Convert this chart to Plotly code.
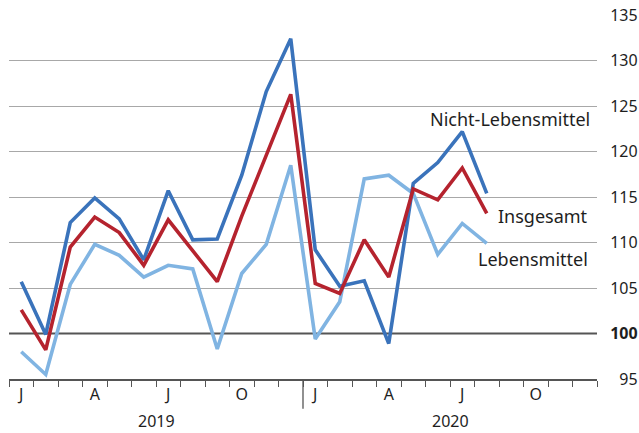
import plotly.graph_objects as go

# months Jan 2019 .. Aug 2020 as index 0..19
month_idx = list(range(20))

nicht_lebensmittel = [105.7, 99.9, 112.2, 114.9, 112.6, 108.1, 115.7, 110.3, 110.4, 117.4,
                      126.6, 132.4, 109.2, 105.2, 105.8, 98.9, 116.5, 118.8, 122.2, 115.4]
insgesamt = [102.6, 98.2, 109.5, 112.8, 111.1, 107.5, 112.5, 109.1, 105.7, 112.9,
             119.6, 126.3, 105.5, 104.4, 110.3, 106.2, 115.9, 114.7, 118.2, 113.2]
lebensmittel = [98.0, 95.5, 105.4, 109.8, 108.6, 106.2, 107.5, 107.1, 98.3, 106.6,
                109.8, 118.5, 99.4, 103.5, 117.0, 117.4, 115.4, 108.7, 112.1, 109.9]

tick_pos = [0, 3, 6, 9, 12, 15, 18, 21]
tick_text = ["J", "A", "J", "O", "J", "A", "J", "O"]
years = ["2019", "2020"]
y_ticks = [95, 100, 105, 110, 115, 120, 125, 130, 135]
y_text = ["\u200795", "<b>100</b>", "105", "110", "115", "120", "125", "130", "135"]
BASE = 100
X_RANGE = [-0.5, 23.5]

FONT = "Noto Sans"
TXT = "#1e1e1e"

fig = go.Figure()
# base line at 100, drawn as first trace so the series lie on top of it
fig.add_trace(go.Scatter(x=X_RANGE, y=[BASE, BASE], mode="lines", hoverinfo="skip",
                         line=dict(color="#555555", width=2)))

series = [
    ("Lebensmittel", lebensmittel, "#80b4e2"),
    ("Nicht-Lebensmittel", nicht_lebensmittel, "#3a73bb"),
    ("Insgesamt", insgesamt, "#b5232e"),
]
for name, vals, col in series:
    fig.add_trace(go.Scatter(x=month_idx, y=vals, mode="lines", name=name,
                             line=dict(color=col, width=3.6)))

# year separator
fig.add_shape(type="line", xref="x", x0=11.5, x1=11.5, yref="paper", y0=0, y1=-0.082,
              line=dict(color="#555555", width=1.3))

labels = [
    ("Nicht-Lebensmittel", 16.6, 123.6),
    ("Insgesamt", 19.38, 112.9),
    ("Lebensmittel", 18.55, 108.2),
]
for text, x, y in labels:
    fig.add_annotation(x=x, y=y, text=text, showarrow=False, xanchor="left",
                       yanchor="middle", font=dict(family=FONT, size=18, color=TXT))

for i, yr in enumerate(years):
    fig.add_annotation(x=5.5 + 12 * i, y=-0.08, xref="x", yref="paper", text=yr,
                       showarrow=False, yanchor="top",
                       font=dict(family=FONT, size=16, color=TXT))

fig.update_layout(
    width=639, height=433,
    margin=dict(l=9, r=42, t=15, b=54),
    paper_bgcolor="white", plot_bgcolor="white",
    showlegend=False,
    font=dict(family=FONT, size=16, color=TXT),
)
fig.update_xaxes(
    range=X_RANGE, tickvals=tick_pos, ticktext=tick_text, ticks="",
    showgrid=False, zeroline=False, automargin=False,
    showline=True, linecolor="#555555", linewidth=2,
    tickfont=dict(family=FONT, size=16, color=TXT),
    minor=dict(tickvals=[i - 0.5 for i in range(25)], ticks="outside",
               ticklen=6, tickcolor="#555555", tickwidth=1.3, showgrid=False),
)
fig.update_yaxes(
    range=[95, 135.02], side="right", tickvals=y_ticks, ticktext=y_text,
    showgrid=True, gridcolor="#a8a8a8", gridwidth=1.4, zeroline=False,
    automargin=False,
    ticks="outside", ticklen=9, tickcolor="rgba(0,0,0,0)",
    tickfont=dict(family=FONT, size=16, color=TXT),
)

fig.write_html("out.html", config={"displayModeBar": False},
               post_script="document.body.style.margin='0';")
